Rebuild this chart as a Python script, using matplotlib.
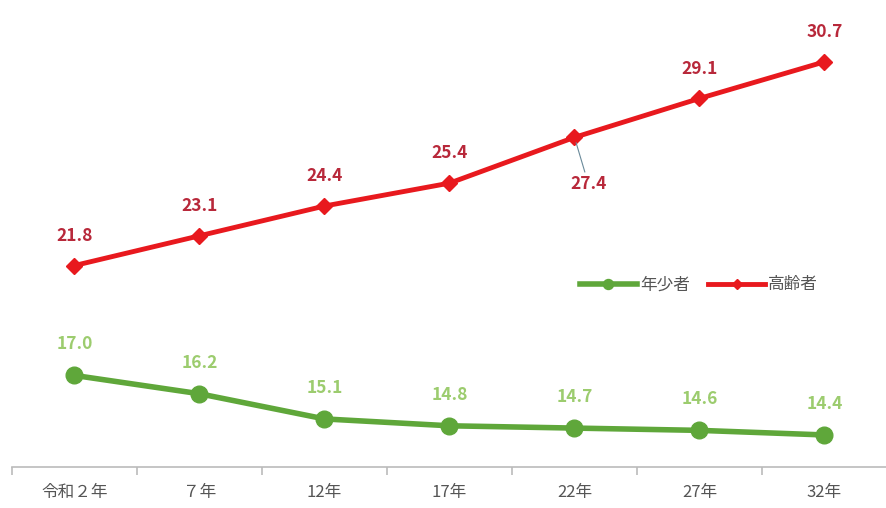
import matplotlib
matplotlib.use('Agg')
import matplotlib.pyplot as plt

plt.rcParams['font.family'] = ['Noto Sans CJK JP', 'DejaVu Sans']

# data
years = ['令和２年', '７年', '12年', '17年', '22年', '27年', '32年']
young = [17.0, 16.2, 15.1, 14.8, 14.7, 14.6, 14.4]
elderly = [21.8, 23.1, 24.4, 25.4, 27.4, 29.1, 30.7]

green = '#5fa73a'
green_txt = '#9ccc6e'
red = '#e8191e'
red_txt = '#b8283a'

fig = plt.figure(figsize=(8.87, 5.08), dpi=100)
ax = fig.add_axes([12/887, 41/508, 875/887, 467/508])

x = list(range(len(years)))
ax.plot(x, young, color=green, lw=4, marker='o', ms=12, label='年少者')
ax.plot(x, elderly, color=red, lw=3.5, marker='D', ms=8, label='高齢者')

for i, v in enumerate(young):
    ax.annotate('%.1f' % v, (i, v), xytext=(0, 16), textcoords='offset points',
                ha='center', va='bottom', color=green_txt, fontsize=12.5, fontweight='bold')
for i, v in enumerate(elderly):
    if i == 4:
        ax.annotate('%.1f' % v, (i, v), xytext=(10, -27), textcoords='offset points',
                    ha='center', va='top', color=red_txt, fontsize=12.5, fontweight='bold',
                    arrowprops=dict(arrowstyle='-', color='#6a8a9a', lw=0.8,
                                    shrinkA=0, shrinkB=4))
    else:
        ax.annotate('%.1f' % v, (i, v), xytext=(0, 15), textcoords='offset points',
                    ha='center', va='bottom', color=red_txt, fontsize=12.5, fontweight='bold')

ax.set_xlim(-0.5, len(years) - 0.5)
ax.set_ylim(13.0, 33.4)
ax.set_yticks([])
ax.set_xticks(x)
ax.set_xticklabels(years, fontsize=12, color='#555555')
ax.tick_params(axis='x', length=0, pad=12)
ax.set_xticks([i - 0.5 for i in range(len(years) + 1)], minor=True)
ax.tick_params(axis='x', which='minor', length=6, color='#bbbbbb', width=1.2)

for s in ['top', 'right', 'left']:
    ax.spines[s].set_visible(False)
ax.spines['bottom'].set_color('#bbbbbb')
ax.spines['bottom'].set_linewidth(1.2)

leg = ax.legend(loc='center left', bbox_to_anchor=(553/875, (508-285-41)/467),
                ncol=2, frameon=False, fontsize=12, handlelength=3.4,
                columnspacing=1.1, handletextpad=0.2, markerscale=0.6)
for t in leg.get_texts():
    t.set_color('#555555')

fig.savefig('out.png', dpi=100)
